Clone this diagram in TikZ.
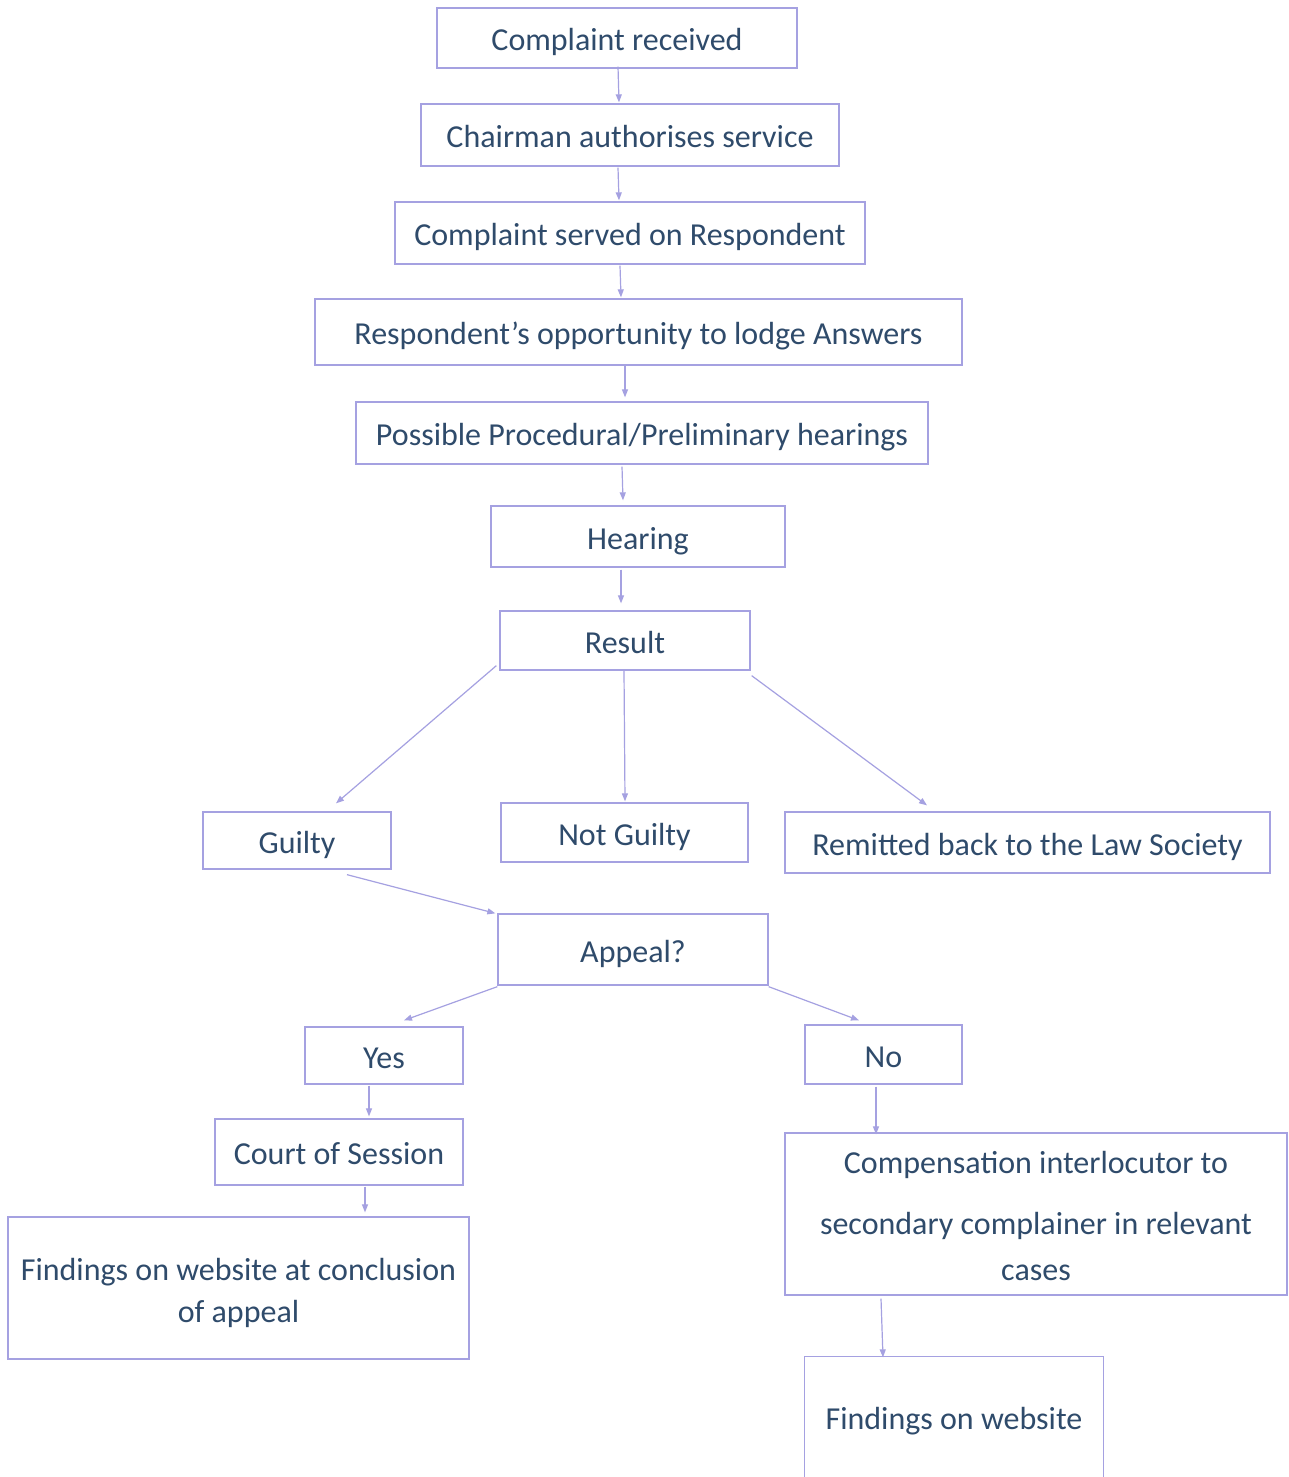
\documentclass[tikz,border=0pt]{standalone}
\usepackage{fontspec}
\setmainfont{Carlito}
\usetikzlibrary{arrows.meta}
\definecolor{tc}{HTML}{2F4B6B}
\definecolor{lc}{HTML}{A5A1E1}
\tikzset{
  box/.style={draw=lc, line width=1.3pt, text=tc, inner sep=0pt, align=center,
    font=\fontsize{32}{44}\selectfont, text height=25pt, text depth=0pt},
  mbox/.style={draw=lc, line width=1.3pt, text=tc, inner sep=0pt, align=center},
  arr/.style={draw=lc, line width=1.2pt, -{Triangle[length=8pt,width=6pt]}},
}
\begin{document}
\begin{tikzpicture}[x=1pt,y=-1pt]
\fill[white] (0,0) rectangle (1288,1477);
\useasboundingbox (0,0) rectangle (1288,1477);

\node[box, minimum width=360, minimum height=60] (b1) at (617,38) {Complaint received};
\node[box, minimum width=418, minimum height=62] (b2) at (630,135) {Chairman authorises service};
\node[box, minimum width=470, minimum height=62] (b3) at (630,233) {Complaint served on Respondent};
\node[box, minimum width=647, minimum height=66] (b4) at (638.5,332) {Respondent’s opportunity to lodge Answers};
\node[box, minimum width=572, minimum height=62] (b5) at (642,433) {Possible Procedural/Preliminary hearings};
\node[box, minimum width=294, minimum height=61] (b6) at (638,536.5) {Hearing};
\node[box, minimum width=250, minimum height=59] (b7) at (625,640.5) {Result};
\node[box, minimum width=188, minimum height=57] (b8) at (297,840.5) {Guilty};
\node[box, minimum width=247, minimum height=59] (b9) at (624.5,832.5) {Not Guilty};
\node[box, minimum width=485, minimum height=61] (b10) at (1027.5,842.5) {Remitted back to the Law Society};
\node[box, minimum width=270, minimum height=71] (b11) at (633,949.5) {Appeal?};
\node[box, minimum width=158, minimum height=57] (b12) at (384,1055.5) {Yes};
\node[box, minimum width=157, minimum height=59] (b13) at (883.5,1054.5) {No};
\node[box, minimum width=248, minimum height=66] (b14) at (339,1152) {Court of Session};
\node[mbox, minimum width=461, minimum height=142, font=\fontsize{32}{42}\selectfont] (b15) at (238.5,1288)
  {\rule{0pt}{32pt}Findings on website at conclusion\\of appeal};
\node[mbox, minimum width=502, minimum height=162, font=\fontsize{32}{46}\selectfont] (b16) at (1036,1214)
  {\rule{0pt}{26pt}Compensation interlocutor to\\[15pt]secondary complainer in relevant\\cases};
\node[box, draw=none, minimum width=298, minimum height=120] (b17) at (954,1417) {Findings on website};
\draw[draw=lc, line width=1.3pt] (b17.south west) -- (b17.north west) -- (b17.north east) -- (b17.south east);

\draw[arr] ([shift={(1,-2)}]b1.south) -- ([shift={(-11,-1)}]b2.north);
\draw[arr] ([shift={(-12,1)}]b2.south) -- ([shift={(-11,-1)}]b3.north);
\draw[arr] ([shift={(-10,1)}]b3.south) -- ([shift={(-17.5,-1)}]b4.north);
\draw[arr] ([shift={(-13.5,0)}]b4.south) -- ([shift={(-17,-4)}]b5.north);
\draw[arr] ([shift={(-20,2)}]b5.south) -- ([shift={(-15,-5)}]b6.north);
\draw[arr] ([shift={(-17,2)}]b6.south) -- ([shift={(-4,-7)}]b7.north);
\draw[arr] ([shift={(-3,-5)}]b7.south west) -- ([shift={(39,-8)}]b8.north);
\draw[arr] ([shift={(-1,0)}]b7.south) -- ([shift={(0.5,-1)}]b9.north);
\draw[arr] ([shift={(1,5)}]b7.south east) -- ([shift={(-100.5,-6)}]b10.north);
\draw[arr] ([shift={(50,5)}]b8.south) -- ([shift={(-2,0)}]b11.north west);
\draw[arr] ([shift={(0,1)}]b11.south west) -- ([shift={(20,-6)}]b12.north);
\draw[arr] ([shift={(0,1)}]b11.south east) -- ([shift={(-24.5,-4)}]b13.north);
\draw[arr] ([shift={(-15,1)}]b12.south) -- ([shift={(30,-2)}]b14.north);
\draw[arr] ([shift={(26,1)}]b14.south) -- ([shift={(126.5,-4)}]b15.north);
\draw[arr] ([shift={(-7.5,2)}]b13.south) -- ([shift={(-160,2)}]b16.north);
\draw[arr] ([shift={(-155,3)}]b16.south) -- ([shift={(-71,1)}]b17.north);
\end{tikzpicture}
\end{document}
